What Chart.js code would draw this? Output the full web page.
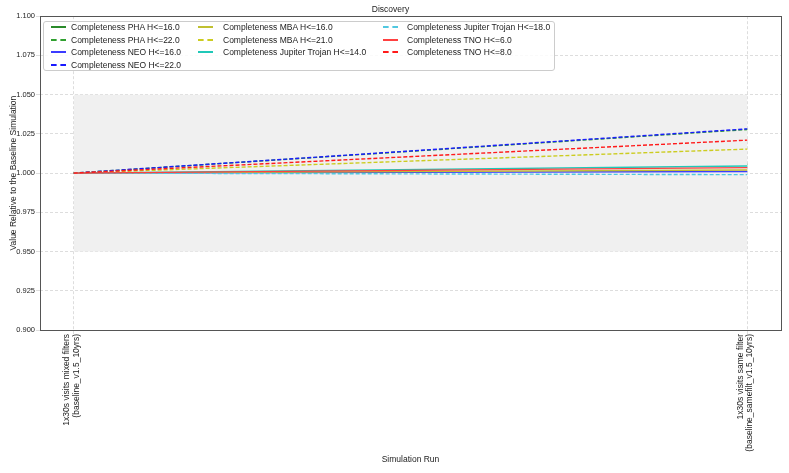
<!DOCTYPE html>
<html>
<head>
<meta charset="utf-8">
<script src="https://cdn.jsdelivr.net/npm/chart.js@4.4.1/dist/chart.umd.min.js"></script>
<style>
    html, body { margin: 0; padding: 0; background: #fff; }
    #wrap { position: relative; width: 789px; height: 473px; font-family: 'Liberation Sans', Arial, sans-serif; }
    #legenda { position: absolute; left: 43px; top: 21px; width: 512px; height: 50px; border: 1px solid #cccccc; border-radius: 3px; background: rgba(255,255,255,0.85); box-sizing: border-box; }
    .amostra { position: absolute; width: 15px; height: 0; }
    .txt { position: absolute; font-size: 8.5px; color: #222; white-space: nowrap; line-height: 10px; }
</style>
</head>
<body>
<div id="wrap">
    <canvas id="grafico" width="789" height="473"></canvas>
    <div id="legenda"></div>
</div>
<script>
// ======================== DADOS ========================
const runs = [0, 1];
const runLabels = [
    ['1x30s visits mixed filters', '(baseline_v1.5_10yrs)'],
    ['1x30s visits same filter', '(baseline_samefilt_v1.5_10yrs)'],
];
const yTicks = [0.9, 0.925, 0.95, 0.975, 1.0, 1.025, 1.05, 1.075, 1.1];
const bandLow = [0.95, 0.95];
const bandHigh = [1.05, 1.05];

const phaH16 = [1.0, 1.0055];
const phaH22 = [1.0, 1.0278];
const neoH16 = [1.0, 1.001];
const neoH22 = [1.0, 1.0282];
const mbaH16 = [1.0, 1.002];
const mbaH21 = [1.0, 1.0153];
const trojanH14 = [1.0, 1.0045];
const trojanH18 = [1.0, 0.9990];
const tnoH6 = [1.0, 1.0035];
const tnoH8 = [1.0, 1.021];

const series = [
    { label: 'Completeness PHA H<=16.0', values: phaH16, color: '#2a8a2a', dash: [] },
    { label: 'Completeness PHA H<=22.0', values: phaH22, color: '#30a030', dash: [4, 2] },
    { label: 'Completeness NEO H<=16.0', values: neoH16, color: '#3c3cff', dash: [] },
    { label: 'Completeness NEO H<=22.0', values: neoH22, color: '#1a1aff', dash: [4, 2] },
    { label: 'Completeness MBA H<=16.0', values: mbaH16, color: '#c0c030', dash: [] },
    { label: 'Completeness MBA H<=21.0', values: mbaH21, color: '#cccc20', dash: [4, 2] },
    { label: 'Completeness Jupiter Trojan H<=14.0', values: trojanH14, color: '#20c8b8', dash: [] },
    { label: 'Completeness Jupiter Trojan H<=18.0', values: trojanH18, color: '#50c8e0', dash: [4, 2] },
    { label: 'Completeness TNO H<=6.0', values: tnoH6, color: '#ff4040', dash: [] },
    { label: 'Completeness TNO H<=8.0', values: tnoH8, color: '#ff1a1a', dash: [4, 2] },
];

// legenda em colunas (coluna-major, 4/3/3)
const legendSampleX = [7, 154, 339];
const legendTextX = [27, 179, 363];
const legendRowY = [5, 17.5, 30, 42.5];
const legendLayout = [[0, 0], [0, 1], [0, 2], [0, 3], [1, 0], [1, 1], [1, 2], [2, 0], [2, 1], [2, 2]];

const fonte = "'Liberation Sans', Arial, sans-serif";
Chart.defaults.font.family = fonte;
Chart.defaults.color = '#222';

// ======================== GRÁFICO ========================
const moldura = {
    id: 'moldura',
    afterDraw(chart) {
        const { ctx, chartArea: a } = chart;
        ctx.save();
        ctx.strokeStyle = '#555';
        ctx.lineWidth = 1;
        ctx.strokeRect(Math.round(a.left) + 0.5, Math.round(a.top) + 0.5, Math.round(a.right - a.left), Math.round(a.bottom - a.top));
        ctx.restore();
    },
};

const datasets = [
    {
        label: 'band-low',
        data: runs.map((x, i) => ({ x, y: bandLow[i] })),
        borderWidth: 0,
        pointRadius: 0,
        fill: false,
        order: 20,
    },
    {
        label: 'band-high',
        data: runs.map((x, i) => ({ x, y: bandHigh[i] })),
        borderWidth: 0,
        pointRadius: 0,
        backgroundColor: '#f0f0f0',
        fill: '-1',
        order: 10,
    },
    ...series.map((s, i) => ({
        label: s.label,
        data: runs.map((x, j) => ({ x, y: s.values[j] })),
        borderColor: s.color,
        backgroundColor: s.color,
        borderDash: s.dash,
        borderWidth: 1.4,
        pointRadius: 0,
        fill: false,
        tension: 0,
        order: series.length - i,
    })),
];

const chart = new Chart(document.getElementById('grafico'), {
    type: 'line',
    data: { datasets },
    plugins: [moldura],
    options: {
        responsive: false,
        animation: false,
        layout: { padding: { left: 0, right: 8, top: 0, bottom: 0 } },
        plugins: {
            legend: { display: false },
            tooltip: { enabled: false },
            title: {
                display: true,
                text: 'Discovery',
                font: { size: 8.5, weight: 'normal' },
                color: '#222',
                padding: { top: 5, bottom: 1 },
            },
        },
        scales: {
            x: {
                type: 'linear',
                min: -0.05,
                max: 1.05,
                afterBuildTicks: (scale) => {
                    scale.ticks = runs.map((v) => ({ value: v }));
                },
                afterFit: (scale) => {
                    scale.height = 143;
                },
                ticks: {
                    autoSkip: false,
                    minRotation: 90,
                    maxRotation: 90,
                    labelOffset: -7,
                    padding: 0,
                    font: { size: 8.5, lineHeight: 1.15 },
                    color: '#222',
                    callback: (v) => runLabels[v] || '',
                },
                grid: { color: '#dddddd', tickLength: 4, drawTicks: true },
                border: { display: false, dash: [3, 2] },
                title: {
                    display: true,
                    text: 'Simulation Run',
                    font: { size: 8.5 },
                    color: '#222',
                    padding: { top: 0, bottom: 8 },
                },
            },
            y: {
                min: 0.9,
                max: 1.1,
                afterBuildTicks: (scale) => {
                    scale.ticks = yTicks.map((v) => ({ value: v }));
                },
                afterFit: (scale) => {
                    scale.width = 40;
                },
                ticks: {
                    font: { size: 7.5 },
                    color: '#222',
                    padding: 1,
                    callback: (v) => v.toFixed(3),
                },
                grid: { color: '#dddddd', tickLength: 4 },
                border: { display: false, dash: [3, 2] },
                title: {
                    display: true,
                    text: 'Value Relative to the Baseline Simulation',
                    font: { size: 8.5 },
                    color: '#222',
                    padding: { top: 9, bottom: 2 },
                },
            },
        },
    },
});

// ======================== LEGENDA ========================
const legenda = document.getElementById('legenda');
legenda.innerHTML = series
    .map((s, i) => {
        const [col, row] = legendLayout[i];
        const estilo = s.dash.length ? 'dashed' : 'solid';
        const cy = legendRowY[row];
        return `
        <div class="amostra" style="left:${legendSampleX[col]}px; top:${cy - 1}px; border-top: 2px ${estilo} ${s.color};"></div>
        <div class="txt" style="left:${legendTextX[col]}px; top:${cy - 5}px;">${s.label.replace(/</g, '&lt;')}</div>
    `;
    })
    .join('');
</script>
</body>
</html>
